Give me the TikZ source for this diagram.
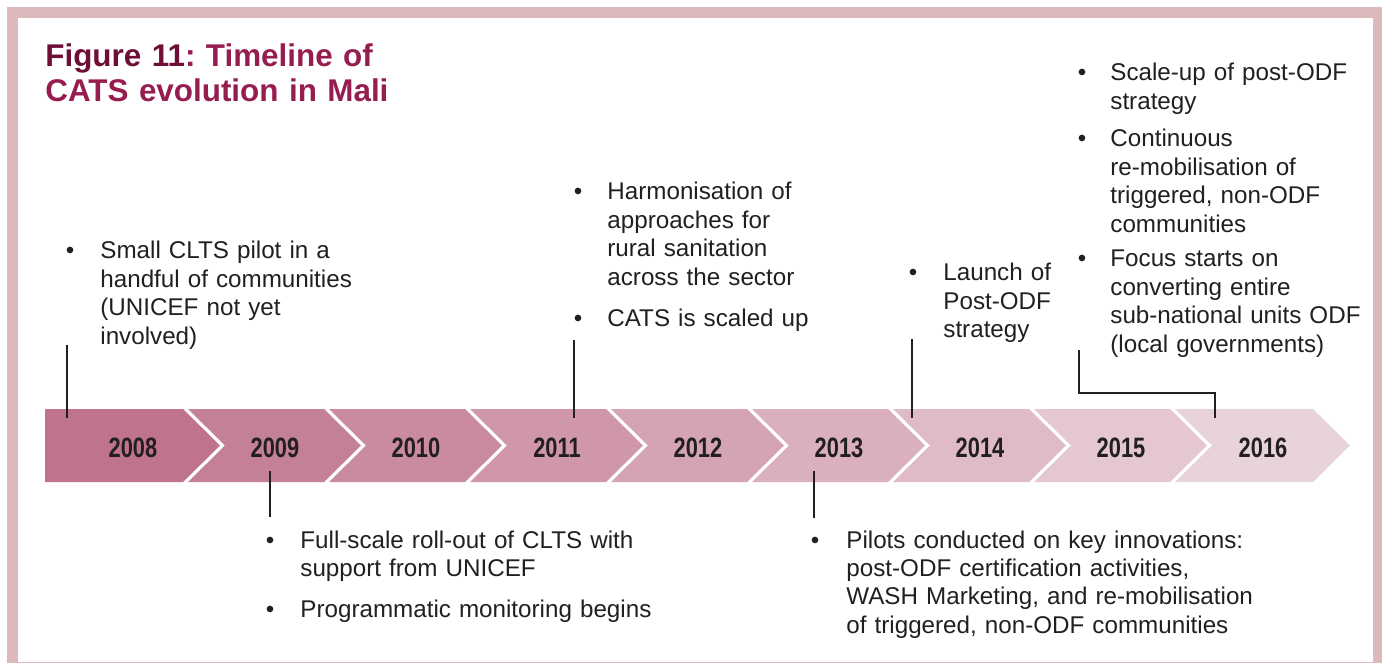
\documentclass[tikz,border=0pt]{standalone}
\usepackage{fontspec}
\setmainfont{Liberation Sans}
\newfontfamily\yearfont[FakeStretch=0.78]{Liberation Sans}
\definecolor{framepink}{HTML}{DDB9BE}
\definecolor{segdark}{HTML}{C0738F}
\definecolor{seglight}{HTML}{E9D3DB}
\definecolor{titlered}{HTML}{961D50}
\definecolor{titledark}{HTML}{6E0E36}
\definecolor{inkgrey}{HTML}{231F20}
\newcommand{\bodysize}{\fontsize{12.1}{14.2}\selectfont}
\newcommand{\titlesize}{\fontsize{15.7}{17.5}\selectfont}
\frenchspacing

\begin{document}
\begin{tikzpicture}[x=0.5pt,y=-0.5pt,
  note/.style={anchor=base west, inner sep=0pt, text width=320pt, align=left, font=\bodysize, text=inkgrey},
  dot/.style={anchor=base, inner sep=0pt, font=\bodysize, text=inkgrey},
  yearlbl/.style={inner sep=0pt, font=\yearfont\bfseries\fontsize{14}{16}\selectfont, text=inkgrey},
  tick/.style={draw=inkgrey, line width=1pt}]
\useasboundingbox (0,0) rectangle (1382,663);
\fill[framepink] (7,7) rectangle (1382,663);
\fill[white] (18,18) rectangle (1373,661.5);

\node[anchor=base west, inner sep=0pt, text width=300pt, align=left, font=\titlesize\bfseries, text=titlered]
  (title) at (45,67) {{\color{titledark}Figure 11}: Timeline of\\CATS evolution in Mali};

% arrow band
\foreach \yr [count=\i from 0] in {2008,...,2016} {
  \pgfmathsetmacro\segL{\i==0 ? 45 : 188+141*(\i-1)}
  \pgfmathsetmacro\segR{\i==8 ? 1313 : 183+141*\i}
  \pgfmathsetmacro\nd{\i==0 ? 0 : 37}
  \pgfmathtruncatemacro\pct{100-12.5*\i}
  \colorlet{segfill}{segdark!\pct!seglight}
  \fill[segfill] (\segL,409) -- (\segR,409) -- (\segR+37,445.5) -- (\segR,482)
    -- (\segL,482) -- (\segL+\nd,445.5) -- cycle;
  \node[yearlbl] (y\yr) at ({(\segL+\segR)/2+19},448) {\yr};
}

% above the band
\node[dot] (b08) at (70,259) {\textbullet};
\node[note] (t08) at (100,259) {Small CLTS pilot in a\\handful of communities\\(UNICEF not yet\\involved)};
\node[dot] (b11a) at (578,200) {\textbullet};
\node[note] (t11a) at (607,200) {Harmonisation of\\approaches for\\rural sanitation\\across the sector};
\node[dot] (b11b) at (578,327) {\textbullet};
\node[note] (t11b) at (607,327) {CATS is scaled up};
\node[dot] (b14) at (913,281) {\textbullet};
\node[note] (t14) at (943,281) {Launch of\\Post-ODF\\strategy};
\node[dot] (b16a) at (1082,81) {\textbullet};
\node[note] (t16a) at (1110,81) {Scale-up of post-ODF\\strategy};
\node[dot] (b16b) at (1082,147) {\textbullet};
\node[note] (t16b) at (1110,147) {Continuous\\re-mobilisation of\\triggered, non-ODF\\communities};
\node[dot] (b16c) at (1082,267) {\textbullet};
\node[note] (t16c) at (1110,267) {Focus starts on\\converting entire\\sub-national units ODF\\(local governments)};

% below the band
\node[dot] (b09a) at (270,548) {\textbullet};
\node[note] (t09a) at (300,548) {Full-scale roll-out of CLTS with\\support from UNICEF};
\node[dot] (b09b) at (270,617) {\textbullet};
\node[note] (t09b) at (300,617) {Programmatic monitoring begins};
\node[dot] (b13) at (815,548) {\textbullet};
\node[note] (t13) at (846,548) {Pilots conducted on key innovations:\\post-ODF certification activities,\\WASH Marketing, and re-mobilisation\\of triggered, non-ODF communities};

% ticks
\coordinate (c08t) at (67,345);   \coordinate (c08b) at (67,418);
\coordinate (c09t) at (270,471);  \coordinate (c09b) at (270,517);
\coordinate (c11t) at (574,340);  \coordinate (c11b) at (574,418);
\coordinate (c13t) at (814,471);  \coordinate (c13b) at (814,518);
\coordinate (c14t) at (912,339);  \coordinate (c14b) at (912,418);
\coordinate (c16t) at (1079,350); \coordinate (c16e) at (1215,393);
\coordinate (c16b) at (1215,418);
\draw[tick] (c08t) -- (c08b);
\draw[tick] (c09t) -- (c09b);
\draw[tick] (c11t) -- (c11b);
\draw[tick] (c13t) -- (c13b);
\draw[tick] (c14t) -- (c14b);
\draw[tick] (c16t) |- (c16e) -- (c16b);
\end{tikzpicture}
\end{document}
